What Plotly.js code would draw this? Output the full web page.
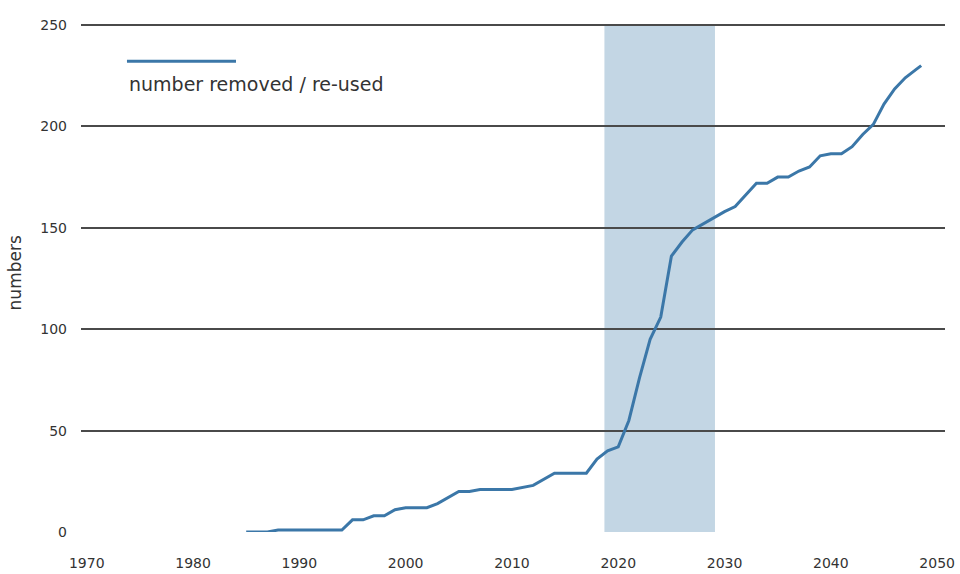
<!DOCTYPE html>
<html>
<head>
<meta charset="utf-8">
<script src="https://cdn.plot.ly/plotly-3.0.1.min.js"></script>
<style>
  html, body { margin: 0; padding: 0; background: #fff; }
  #chart { width: 960px; height: 574px; }
</style>
</head>
<body>
<div id="chart"></div>
<script>
// Data
const years = [1985, 1987, 1988, 1994, 1995, 1996, 1997, 1998, 1999, 2000, 2002, 2003, 2005, 2006, 2007, 2010,
  2012, 2014, 2017, 2018, 2019, 2020, 2021, 2022, 2023, 2024, 2025, 2026, 2027, 2028, 2029, 2030, 2031,
  2033, 2034, 2035, 2036, 2037, 2038, 2039, 2040, 2041, 2042, 2043, 2044, 2045, 2046, 2047, 2048, 2048.5];
const removed = [0, 0, 1, 1, 6, 6, 8, 8, 11, 12, 12, 14, 20, 20, 21, 21,
  23, 29, 29, 36, 40, 42, 55, 76, 95, 106, 136, 143, 149, 152, 155, 158, 160.5,
  172, 172, 175, 175, 178, 180, 185.5, 186.5, 186.5, 190, 196, 201, 211, 218.5, 224, 228, 230];
const seriesName = 'number removed / re-used';
const highlightYears = [2018.7, 2029.1];
const yTicks = [0, 50, 100, 150, 200, 250];
const xTicks = [1970, 1980, 1990, 2000, 2010, 2020, 2030, 2040, 2050];

const FONT = 'DejaVu Sans, sans-serif';
const TXT = '#333333';
const LINE = '#3b77a8';

const trace = {
  x: years, y: removed, type: 'scatter', mode: 'lines', name: seriesName,
  line: { color: LINE, width: 3 }, showlegend: false, hoverinfo: 'skip'
};

const layout = {
  width: 960, height: 574,
  margin: { l: 81, r: 15, t: 23, b: 42 },
  paper_bgcolor: '#ffffff', plot_bgcolor: '#ffffff',
  font: { family: FONT, color: TXT, size: 14 },
  showlegend: false,
  xaxis: {
    range: [1969.46, 2050.74], tickvals: xTicks, ticktext: xTicks.map(String),
    showgrid: false, zeroline: false, showline: false, ticks: '',
    ticklabelstandoff: 21, tickfont: { size: 14, color: TXT }, fixedrange: true
  },
  yaxis: {
    range: [0, 251], tickvals: yTicks, ticktext: yTicks.map(String),
    showgrid: true, gridcolor: '#4a4a4a', gridwidth: 2,
    zeroline: true, zerolinecolor: 'rgba(0,0,0,0)', zerolinewidth: 1,
    showline: false, ticks: '', ticklabelstandoff: 13,
    tickfont: { size: 14, color: TXT }, fixedrange: true
  },
  shapes: [
    { type: 'rect', xref: 'x', yref: 'y', x0: highlightYears[0], x1: highlightYears[1], y0: 0, y1: 250,
      fillcolor: '#c3d6e4', line: { width: 0 }, layer: 'below' },
    { type: 'line', xref: 'paper', yref: 'paper', x0: 0.0532, x1: 0.1794, y0: 0.925, y1: 0.925,
      line: { color: LINE, width: 3 } }
  ],
  annotations: [
    { xref: 'paper', yref: 'paper', x: 0.0532, y: 0.881, xanchor: 'left', yanchor: 'middle',
      text: seriesName, showarrow: false, font: { size: 19, color: TXT, family: FONT } },
    { xref: 'paper', yref: 'paper', x: -0.0764, y: 0.51, xanchor: 'center', yanchor: 'middle',
      text: 'numbers', textangle: -90, showarrow: false, font: { size: 17, color: TXT, family: FONT } }
  ]
};

Plotly.newPlot('chart', [trace], layout, { staticPlot: true, displayModeBar: false });
</script>
</body>
</html>
